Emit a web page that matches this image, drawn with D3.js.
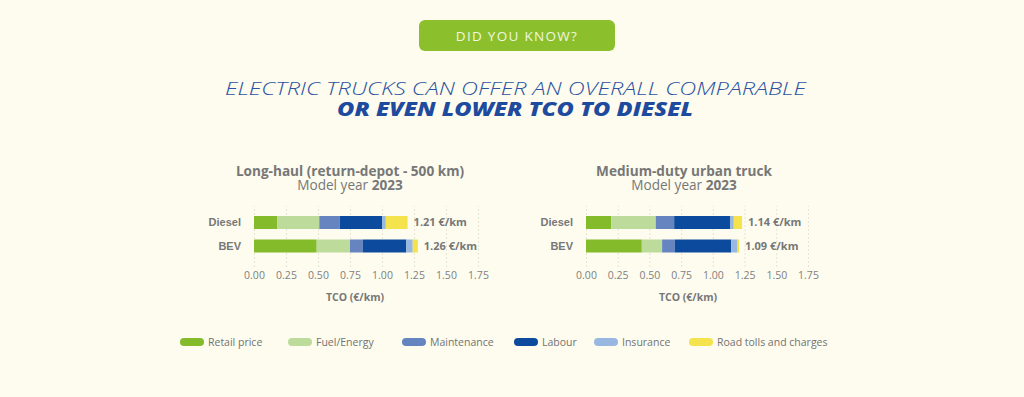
<!DOCTYPE html>
<html>
<head>
<meta charset="utf-8">
<script src="https://cdn.jsdelivr.net/npm/d3@7"></script>
<style>
  html, body { margin: 0; padding: 0; background: #fdfcef; }
  svg { display: block; }
</style>
</head>
<body>
<div class="chart"></div>
<script>
const categories = ['Diesel', 'BEV']
const components = ['Retail price', 'Fuel/Energy', 'Maintenance', 'Labour', 'Insurance', 'Road tolls and charges']
const colors = ['#84bb2b', '#bddc9c', '#6584c0', '#0c4a9d', '#98b8e1', '#f4e34c']
const ticks = [0, 0.25, 0.5, 0.75, 1, 1.25, 1.5, 1.75]

// long-haul, €/km per component
const longHaulDiesel = [0.18, 0.33, 0.16, 0.33, 0.03, 0.17]
const longHaulBev = [0.49, 0.26, 0.1, 0.34, 0.05, 0.04]
const longHaulTotals = ['1.21 €/km', '1.26 €/km']

// medium-duty urban
const urbanDiesel = [0.2, 0.35, 0.145, 0.44, 0.03, 0.065]
const urbanBev = [0.44, 0.16, 0.1, 0.445, 0.05, 0.012]
const urbanTotals = ['1.14 €/km', '1.09 €/km']

const width = 1024
const height = 397
const grey = '#777'

const svg = d3.select('.chart').append('svg').attr('width', width).attr('height', height)
svg.append('rect').attr('width', width).attr('height', height).attr('fill', '#fdfcef')

// header button
svg.append('rect').attr('x', 419).attr('y', 20).attr('width', 196).attr('height', 31).attr('rx', 6).attr('fill', '#8bbf2b')
svg.append('text').attr('x', 517).attr('y', 40.5).attr('text-anchor', 'middle')
  .style('font', '400 13.5px "Open Sans"').style('letter-spacing', '1.3px').attr('fill', '#f2f6e2')
  .text('DID YOU KNOW?')

svg.append('text').attr('x', 225).attr('y', 94.5).attr('textLength', 581).attr('lengthAdjust', 'spacingAndGlyphs')
  .style('font', 'italic 300 18.5px "Open Sans"').attr('fill', '#2c52a0')
  .text('ELECTRIC TRUCKS CAN OFFER AN OVERALL COMPARABLE')
svg.append('text').attr('x', 337).attr('y', 115.5).attr('textLength', 356).attr('lengthAdjust', 'spacingAndGlyphs')
  .style('font', 'italic 800 18.5px "Open Sans"').attr('fill', '#1f4b9e')
  .text('OR EVEN LOWER TCO TO DIESEL')

function panel(opts) {
  const x = d3.scaleLinear().domain([0, 1.75]).range(opts.range)
  const y = d3.scaleBand().domain(categories).range([216, 252.5]).paddingInner(0.447).paddingOuter(0)

  const rows = categories.map((c, i) => {
    const r = { cat: c }
    components.forEach((k, j) => { r[k] = opts.values[i][j] })
    return r
  })
  const series = d3.stack().keys(components)(rows)

  const g = svg.append('g')

  // two-line title in one text element
  const title = g.append('text').attr('text-anchor', 'middle')
    .style('font', '400 13.6px "Open Sans"').attr('fill', grey)
  title.append('tspan').attr('x', opts.cx).attr('y', 175.5).style('font-weight', 700).text(opts.title)
  title.append('tspan').attr('x', opts.cx).attr('dy', 14.5).text('Model year ')
  title.append('tspan').style('font-weight', 700).text('2023')

  // grid + tick labels
  const axis = d3.axisBottom(x).tickValues(ticks).tickFormat(d3.format('.2f')).tickSizeInner(-61).tickSizeOuter(0).tickPadding(5)
  const ax = g.append('g').attr('transform', 'translate(0,267)').call(axis)
  ax.select('.domain').remove()
  ax.selectAll('.tick line').attr('stroke', '#e6e4d2').attr('stroke-dasharray', '2,2')
  ax.selectAll('.tick text').attr('fill', '#7f7f7f').style('font', '400 10.5px "Open Sans"')

  g.append('text').attr('x', opts.labelX).attr('y', 300.5).attr('text-anchor', 'middle')
    .style('font', '700 10.5px "Open Sans"').attr('fill', grey).text('TCO (€/km)')

  // stacked bars
  g.selectAll('g.layer').data(series).join('g').attr('class', 'layer')
    .attr('fill', (d, i) => colors[i])
    .selectAll('rect').data(d => d).join('rect')
    .attr('x', d => x(d[0]))
    .attr('width', d => Math.max(0, x(d[1]) - x(d[0])))
    .attr('y', d => y(d.data.cat))
    .attr('height', y.bandwidth())

  // category labels
  g.selectAll('text.cat').data(categories).join('text').attr('class', 'cat')
    .attr('x', opts.range[0] - 13).attr('y', d => y(d) + y.bandwidth() / 2 + 4)
    .attr('text-anchor', 'end').style('font', '700 11px "Liberation Sans", Arial')
    .attr('fill', grey).text(d => d)

  // totals
  g.selectAll('text.total').data(categories).join('text').attr('class', 'total')
    .attr('x', (d, i) => x(d3.sum(opts.values[i])) + 6)
    .attr('y', d => y(d) + y.bandwidth() / 2 + 4)
    .style('font', '700 11px "Open Sans"').attr('fill', grey)
    .text((d, i) => opts.totals[i])
}

panel({ range: [254, 478], cx: 350, labelX: 355, title: 'Long-haul (return-depot - 500 km)', values: [longHaulDiesel, longHaulBev], totals: longHaulTotals })
panel({ range: [586, 808], cx: 684, labelX: 688, title: 'Medium-duty urban truck', values: [urbanDiesel, urbanBev], totals: urbanTotals })

// legend
const legendX = [180, 288, 402, 514, 594, 689]
const legend = svg.append('g').selectAll('g').data(components).join('g')
  .attr('transform', (d, i) => `translate(${legendX[i]},342)`)
legend.append('rect').attr('x', 0).attr('y', -4).attr('width', 24).attr('height', 8).attr('rx', 4).attr('fill', (d, i) => colors[i])
legend.append('text').attr('x', 28).attr('y', 3.7).style('font', '400 10.5px "Open Sans"').attr('fill', '#727272').text(d => d)
</script>
</body>
</html>
